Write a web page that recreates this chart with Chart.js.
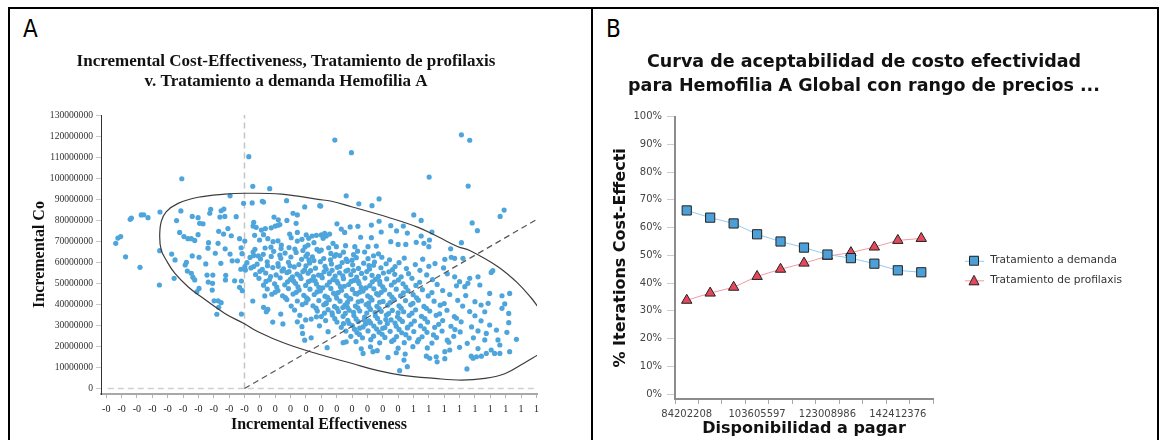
<!DOCTYPE html>
<html>
<head>
<meta charset="utf-8">
<script src="https://cdn.jsdelivr.net/npm/chart.js@4.4.1/dist/chart.umd.min.js"></script>
<style>
  html, body { margin: 0; padding: 0; background: #fff; }
  body { width: 1161px; height: 440px; position: relative; overflow: hidden; }
  .frame { position: absolute; left: 8px; top: 7px; width: 1151px; height: 450px; border: 2px solid #000; box-sizing: border-box; }
  .divider { position: absolute; left: 591px; top: 7px; width: 2px; height: 440px; background: #000; }
  .letter { position: absolute; top: 17px; font: 24px/24px "Liberation Sans Narrow", "DejaVu Sans Condensed", sans-serif; color: #000; }
  #panelA { position: absolute; left: 12px; top: 10px; }
  #panelB { position: absolute; left: 594px; top: 10px; }
</style>
</head>
<body>
<div class="frame"></div>
<div class="divider"></div>
<div class="letter" style="left:23px">A</div>
<div class="letter" style="left:606px">B</div>
<div id="panelA"><canvas id="icer" width="576" height="430"></canvas></div>
<div id="panelB"><canvas id="ceac" width="564" height="430"></canvas></div>
<script>
// ---------- Panel A: plano costo-efectividad (efectividad, costo en millones) ----------
const effTicks = [-0.45, -0.40, -0.35, -0.30, -0.25, -0.20, -0.15, -0.10, -0.05, 0.00,
  0.05, 0.10, 0.15, 0.20, 0.25, 0.30, 0.35, 0.40, 0.45, 0.50,
  0.55, 0.60, 0.65, 0.70, 0.75, 0.80, 0.85, 0.90, 0.95];
const effTickLabels = ['-0','-0','-0','-0','-0','-0','-0','-0','-0','-0',
  '0','0','0','0','0','0','0','0','0','0',
  '1','1','1','1','1','1','1','1','1'];
const costTicks = [0, 10, 20, 30, 40, 50, 60, 70, 80, 90, 100, 110, 120, 130];
const costTickLabels = ['0','10000000','20000000','30000000','40000000','50000000','60000000',
  '70000000','80000000','90000000','100000000','110000000','120000000','130000000'];

// iteraciones leidas una a una en las zonas poco densas
const iterSparse = [
  [0.014,110.2],[-0.204,99.7],[0.027,96.1],[0.082,95.0],[-0.047,91.6],[-0.003,88.0],[0.025,88.2],[0.058,89.0],[0.062,88.6],[0.137,89.3],[0.196,86.3],[0.245,86.9],
  [-0.275,83.9],[-0.207,84.4],[-0.336,82.5],[-0.328,82.6],[-0.314,81.2],[-0.372,80.4],[-0.368,81.0],[-0.221,79.8],[-0.170,81.8],[-0.151,81.2],[-0.113,83.3],[-0.110,85.2],
  [-0.076,84.5],[-0.067,85.3],[-0.080,81.5],[-0.064,81.8],[-0.027,81.7],[-0.146,78.5],[-0.135,78.3],[0.030,79.0],[0.028,77.2],[0.096,81.5],[0.110,80.2],[0.109,77.6],
  [0.138,79.9],[0.158,83.3],[0.172,82.5],[0.168,78.5],[0.038,76.6],[0.055,75.3],[0.068,76.0],[0.087,76.4],[0.100,77.2],[0.115,77.9],[-0.084,74.7],[-0.068,73.4],
  [-0.054,76.0],[-0.211,74.2],[-0.197,72.2],[-0.184,71.2],[-0.173,71.2],[-0.162,70.4],[-0.151,73.1],[-0.043,72.6],[-0.016,71.2],[0.001,70.1],[0.033,72.8],[0.049,70.6],
  [0.062,73.1],[0.076,71.2],[0.093,69.8],[0.109,70.2],[0.120,68.2],[0.147,73.4],[0.152,71.7],[0.172,74.2],[0.172,70.1],[0.187,70.9],[0.201,73.0],[0.209,71.4],
  [0.220,72.5],[0.234,72.8],[0.207,68.2],[0.226,69.3],[-0.419,69.0],[-0.412,71.5],[-0.403,72.2],[-0.117,69.3],[-0.086,69.0],
  [-0.119,66.7],[-0.063,66.4],[-0.011,66.9],[0.034,66.2],[0.067,66.8],[0.086,67.2],[0.119,66.5],[0.145,67.0],[0.164,66.3],
  [-0.276,65.5],[-0.387,62.6],[-0.340,57.6],[-0.277,49.2],[-0.237,63.9],[-0.229,52.4],[-0.226,61.1],
  [-0.193,58.7],[-0.189,60.0],[-0.186,55.8],[-0.170,63.0],[-0.148,62.4],[-0.173,54.8],[-0.168,52.9],[-0.162,51.6],[-0.155,46.0],[-0.148,47.6],[-0.126,59.2],[-0.122,53.9],
  [-0.118,50.6],[-0.103,53.9],[-0.104,50.0],[-0.105,46.8],[-0.095,64.3],[-0.077,59.5],[-0.099,41.7],[-0.086,41.7],[-0.076,40.8],[-0.084,38.6],[-0.090,35.3],[-0.061,53.8],
  [-0.062,51.6],[-0.047,63.9],[-0.040,60.7],[-0.023,60.7],[-0.032,51.2],[-0.016,48.1],[-0.007,46.5],[-0.012,56.7],[-0.010,51.1],[-0.010,35.4],[0.001,57.9],[0.003,56.3],
  [0.027,41.6],[0.066,44.0],[0.062,38.6],[0.076,37.6],[0.071,36.5],[0.092,31.6],[0.118,35.4],[0.125,30.7],[0.172,31.7],[0.187,29.4],[0.189,26.2],[0.196,23.0],
  [0.217,24.1],[0.199,32.6],[0.217,33.0],[0.234,34.1],
  [0.505,8.5],[0.724,9.3],[0.467,14.8],[0.494,17.0],[0.530,10.4],[0.519,13.5],[0.523,16.4],[0.380,18.9],[0.386,16.7],[0.418,17.5],[0.432,18.0],[0.321,21.8],
  [0.331,22.2],[0.269,19.4],[0.272,27.0],[0.592,15.4],[0.603,14.4],[0.624,15.1],[0.652,14.2],[0.627,12.7],[0.652,17.5],[0.668,18.3],[0.738,15.4],[0.744,14.4],
  [0.755,15.1],[0.771,15.4],[0.787,16.7],[0.803,18.3],[0.814,16.7],[0.831,16.7],[0.863,17.5],[0.885,23.4],[0.860,31.3],[0.854,26.7],[0.860,35.7],[0.838,38.1],
  [0.847,40.2],[0.863,45.2],[0.838,44.1],[0.803,55.2],[0.808,56.0],[0.798,45.2],[0.793,40.5],[0.782,36.5],[0.798,30.2],[0.787,26.2],[0.782,23.1],[0.820,27.8],
  [0.825,23.1],[0.831,20.7],[0.766,49.2],[0.760,53.1],[0.727,50.0],[0.733,52.4],[0.684,61.9],[0.711,61.9],[0.652,61.4],[0.673,62.4],[0.684,53.1],[0.700,50.8],[0.717,48.4],
  [0.294,118.1],[0.348,112.1],[0.706,120.6],[0.733,118.0],[0.601,100.5],[0.728,96.2],[0.331,91.6],[0.372,87.8],[0.415,86.9],[0.438,90.1],[0.248,86.7],[0.551,82.5],
  [0.575,79.9],[0.832,81.8],[0.845,84.8],[0.741,78.7],[0.758,75.0],[0.610,74.4],[0.602,70.6],[0.600,67.4],[0.575,72.5],[0.559,69.5],[0.584,69.0],[0.671,66.4],
  [0.706,69.3],[0.301,78.3],[0.315,75.8],[0.326,74.2],[0.344,76.8],[0.369,77.1],[0.413,77.7],[0.438,79.5],[0.445,74.4],[0.476,77.4],[0.495,74.9],[0.517,77.2],
  [0.530,73.9],[0.378,71.9],[0.413,71.7],[0.476,69.8],[0.500,68.5],[0.525,68.5],[0.250,73.0],[0.261,73.8],[0.266,72.5],[0.277,73.4],[0.256,71.4],[0.288,69.0],
  [0.299,67.4],[0.250,65.8],[0.329,67.9],[0.359,67.4],[0.402,67.4],[0.429,67.7]
];

// nube central, estimada por franjas de costo
const iterDense = [
  [0.197,67.3],[0.236,66.1],[0.274,66.9],
  [-0.008,64.1],[0.028,64.9],[0.061,63.8],[0.095,65.2],[0.132,64.4],[0.168,64.7],[0.205,63.9],[0.243,65.3],[0.281,64.2],[0.322,64.8],[0.355,63.6],[0.391,64.9],[0.436,64.0],
  [0.018,62.3],[0.052,61.6],[0.087,62.8],[0.118,61.9],[0.151,62.5],[0.186,61.4],[0.221,62.6],[0.258,61.8],[0.293,62.9],[0.331,61.5],[0.364,62.2],[0.402,61.7],[0.447,62.4],[0.52,62.0],[0.58,61.5],
  [0.008,59.8],[0.041,59.1],[0.074,60.2],[0.109,59.4],[0.143,60.0],[0.177,58.9],[0.212,59.7],[0.247,60.3],[0.283,59.2],[0.318,59.9],[0.352,58.8],[0.388,59.6],[0.423,60.1],[0.461,59.3],[0.503,59.8],[0.556,58.9],[0.62,59.4],
  [0.021,57.3],[0.058,56.6],[0.092,57.5],[0.127,56.9],[0.162,57.8],[0.196,56.4],[0.231,57.2],[0.266,56.7],[0.302,57.6],[0.337,56.3],[0.371,57.1],[0.407,56.8],[0.444,57.4],[0.482,56.5],[0.527,57.0],[0.571,56.2],[0.648,57.3],
  [0.036,54.2],[0.069,54.9],[0.103,54.0],[0.138,55.1],[0.171,54.4],[0.207,54.8],[0.241,53.9],[0.276,54.6],[0.309,55.0],[0.346,54.1],[0.381,54.7],[0.415,53.8],[0.452,54.9],[0.489,54.3],[0.534,54.6],[0.593,54.0],[0.66,54.5],
  [0.047,52.4],[0.081,51.7],[0.116,52.6],[0.149,51.9],[0.184,52.3],[0.218,51.5],[0.253,52.7],[0.288,51.8],[0.322,52.2],[0.356,51.4],[0.392,52.5],[0.426,51.9],[0.463,52.1],[0.501,51.6],[0.545,52.4],[0.612,51.8],
  [0.062,49.1],[0.098,49.8],[0.131,49.3],[0.166,50.0],[0.199,49.0],[0.234,49.7],[0.269,49.2],[0.304,50.1],[0.339,49.4],[0.373,49.9],[0.408,48.9],[0.441,49.6],[0.478,49.2],[0.516,49.8],[0.558,49.0],[0.627,49.5],[0.69,48.8],
  [0.074,47.3],[0.109,46.6],[0.143,47.5],[0.178,46.8],[0.213,47.2],[0.247,46.4],[0.281,47.6],[0.316,46.7],[0.351,47.1],[0.386,46.3],[0.421,47.4],[0.456,46.9],[0.494,47.2],[0.532,46.5],[0.579,47.0],[0.645,46.6],
  [0.089,44.8],[0.124,44.1],[0.158,44.9],[0.193,44.3],[0.227,44.7],[0.262,43.9],[0.297,44.6],[0.331,44.2],[0.366,44.9],[0.401,44.0],[0.436,44.5],[0.472,44.8],[0.508,44.1],[0.549,44.6],[0.598,44.0],[0.668,44.7],[0.72,44.2],
  [0.138,42.3],[0.172,41.6],[0.207,42.4],[0.242,41.8],[0.276,42.2],[0.311,41.5],[0.346,42.6],[0.381,41.7],[0.415,42.1],[0.451,41.4],[0.487,42.3],[0.524,41.8],[0.566,42.0],[0.617,41.5],[0.694,41.9],[0.75,41.3],
  [0.152,39.2],[0.188,39.9],[0.223,39.3],[0.258,39.8],[0.293,39.0],[0.327,39.7],[0.361,39.2],[0.396,39.9],[0.431,39.1],[0.466,39.6],[0.503,39.3],[0.541,39.8],[0.584,39.0],[0.637,39.6],[0.71,39.2],[0.77,39.7],
  [0.163,37.3],[0.237,36.8],[0.272,37.5],[0.306,36.6],[0.341,37.2],[0.375,36.9],[0.41,37.6],[0.445,36.7],[0.481,37.1],[0.518,36.5],[0.557,37.4],[0.603,36.8],[0.659,37.2],[0.733,36.6],
  [0.18,34.8],[0.25,34.2],[0.286,34.9],[0.321,34.3],[0.356,34.7],[0.391,34.0],[0.426,34.6],[0.462,34.9],[0.498,34.1],[0.536,34.7],[0.576,34.3],[0.624,34.8],[0.683,34.2],[0.75,34.6],
  [0.264,32.3],[0.301,31.6],[0.336,32.4],[0.37,31.8],[0.405,32.2],[0.441,31.5],[0.477,32.6],[0.514,31.9],[0.553,32.1],[0.596,31.6],[0.645,32.3],[0.705,31.7],[0.77,32.2],
  [0.244,29.8],[0.315,29.1],[0.351,29.9],[0.386,29.3],[0.421,29.7],[0.457,29.0],[0.494,29.6],[0.532,29.2],[0.573,29.8],[0.619,29.1],[0.672,29.6],[0.739,29.3],
  [0.33,27.3],[0.366,26.6],[0.402,27.4],[0.438,26.8],[0.474,27.2],[0.512,26.5],[0.551,27.1],[0.594,26.7],[0.643,27.3],[0.702,26.9],[0.76,27.4],
  [0.346,24.8],[0.384,24.1],[0.42,24.9],[0.457,24.3],[0.495,24.7],[0.536,24.0],[0.578,24.6],[0.625,24.2],[0.681,24.8],[0.745,24.1],
  [0.363,22.3],[0.44,21.7],[0.479,22.4],[0.52,21.8],[0.563,22.2],[0.61,21.6],[0.665,22.0],[0.725,21.5],
  [0.41,19.8],[0.5,19.2],[0.548,19.9],[0.595,19.3],[0.7,19.6],[0.76,19.0],
  [0.03,63.2],[0.075,58.4],[0.115,63.4],[0.148,58.3],[0.19,65.6],[0.226,60.8],[0.262,58.1],[0.298,63.7],[0.335,60.4],[0.368,65.3],[0.405,58.4],[0.472,61.2],
  [0.05,55.7],[0.085,53.2],[0.122,55.9],[0.156,53.1],[0.19,55.6],[0.225,53.2],[0.259,55.5],[0.295,53.4],[0.33,55.8],[0.365,53.0],[0.398,55.6],[0.436,53.3],[0.47,55.5],[0.51,53.1],
  [0.07,50.9],[0.105,48.2],[0.14,50.7],[0.174,48.3],[0.208,50.8],[0.242,48.1],[0.277,50.6],[0.312,48.4],[0.347,50.9],[0.38,48.0],[0.416,50.7],[0.45,48.3],[0.488,50.6],[0.525,48.2],[0.57,50.5],
  [0.1,45.8],[0.133,43.2],[0.168,45.7],[0.202,43.1],[0.236,45.9],[0.27,43.3],[0.305,45.6],[0.34,43.0],[0.375,45.8],[0.41,43.2],[0.445,45.7],[0.48,43.4],[0.517,45.5],[0.56,43.1],[0.61,45.6],
  [0.2,40.8],[0.233,38.2],[0.266,40.7],[0.301,38.1],[0.335,40.9],[0.369,38.3],[0.404,40.6],[0.438,38.0],[0.474,40.8],[0.51,38.2],[0.548,40.5],[0.592,38.1],[0.65,40.4],
  [0.26,35.8],[0.294,33.2],[0.328,35.7],[0.363,33.1],[0.398,35.9],[0.433,33.3],[0.469,35.6],[0.505,33.0],[0.545,35.8],[0.587,33.2],[0.635,35.5],[0.69,33.4],
  [0.322,30.8],[0.358,28.2],[0.394,30.7],[0.43,28.3],[0.465,30.9],[0.503,28.1],[0.542,30.6],[0.585,28.4],[0.632,30.5],[0.685,28.0],
  [0.374,25.7],[0.411,23.2],[0.448,25.8],[0.486,23.1],[0.525,25.6],[0.567,23.3],[0.615,25.5],[0.66,23.0],
  [0.045,63.0],[0.2,62.9],[0.31,63.2],[0.42,63.1],[0.03,58.0],[0.11,58.1],[0.2,58.3],[0.31,58.0],[0.42,58.6],[0.49,58.0],[0.6,58.1],
  [0.255,47.9],[0.29,45.3],[0.325,48.6],[0.36,45.2],[0.395,47.8],[0.43,45.1],[0.265,40.3],[0.3,43.0],[0.335,38.6],[0.37,41.2],
  [0.405,38.7],[0.44,41.0],[0.285,36.0],[0.32,38.5],[0.355,36.2],[0.39,32.6],[0.425,36.1],[0.46,32.8],[0.5,36.0],[0.34,31.0],
  [0.375,28.7],[0.41,31.2],[0.45,28.6],[0.49,31.1],[0.53,28.8],[0.18,53.6],[0.215,56.0],[0.25,53.8],[0.285,56.2],[0.32,53.6],
  [0.355,56.1],[0.145,55.6],[0.21,61.1],[0.28,61.2],[0.35,61.0],[0.16,51.0],[0.23,51.2],[0.3,51.1],[0.37,51.0],[0.44,50.9]
];

// elipse de confianza trazada sobre la figura
const confidenceEllipse = [
  [0.955,38.9],[0.934,42.9],[0.890,50.0],[0.825,57.9],[0.733,65.6],[0.695,67.4],[0.630,72.1],[0.565,76.6],
  [0.467,81.4],[0.348,86.4],[0.283,89.0],[0.239,89.9],[0.120,92.4],[0.001,92.8],[-0.064,92.4],[-0.151,90.9],
  [-0.216,88.0],[-0.255,84.0],[-0.271,79.3],[-0.276,72.2],[-0.271,65.8],[-0.255,61.1],[-0.227,54.8],[-0.184,48.4],
  [-0.141,43.6],[-0.064,35.7],[0.001,30.7],[0.044,27.0],[0.131,21.5],[0.239,16.4],[0.348,12.0],[0.435,8.5],
  [0.510,6.4],[0.619,4.8],[0.706,4.0],[0.782,4.8],[0.847,7.0],[0.912,12.3],[0.955,16.0]
];
const thresholdLine = [[0, 0], [0.951, 80.3]];
const zeroEffLine = [[0, 0], [0, 130]];
const zeroCostLine = [[-0.445, 0], [0.952, 0]];

// ---------- Panel B: curva de aceptabilidad ----------
const wtpLabels = ['84202208','90670004','97137801','103605597','110073393','116541190',
  '123008986','129476782','135944579','142412376','148880172'];
const onDemand = [66.2, 63.6, 61.5, 57.6, 55.0, 52.8, 50.3, 49.0, 47.0, 44.6, 43.9];
const prophylaxis = [33.8, 36.4, 38.5, 42.4, 45.0, 47.2, 49.7, 51.0, 53.0, 55.4, 56.1];
const pctTicks = [0, 10, 20, 30, 40, 50, 60, 70, 80, 90, 100];

const toXY = pts => pts.map(p => ({ x: p[0], y: p[1] }));

// eje invisible que solo deja un hueco a la derecha del area
function spacer(width) {
  return {
    type: 'linear', position: 'right', display: true,
    ticks: { display: false }, grid: { display: false }, border: { display: false },
    afterFit: s => { s.width = width; }
  };
}

const serif = 'Liberation Serif';
const sans = 'DejaVu Sans';

new Chart(document.getElementById('icer'), {
  type: 'scatter',
  data: {
    datasets: [
      { label: 'Elipse', data: toXY(confidenceEllipse), showLine: true, tension: 0.4,
        borderColor: '#3c3c3c', borderWidth: 1.2, pointRadius: 0 },
      { label: 'Umbral', data: toXY(thresholdLine), showLine: true,
        borderColor: '#555', borderWidth: 1.2, borderDash: [6, 4], pointRadius: 0 },
      { label: 'Iteraciones', data: toXY(iterSparse.concat(iterDense)),
        pointRadius: 2.6, pointBackgroundColor: '#4ea5dc', pointBorderWidth: 0 },
      { label: 'x0', data: toXY(zeroEffLine), showLine: true,
        borderColor: '#c4c4c4', borderWidth: 1.5, borderDash: [6, 4], pointRadius: 0 },
      { label: 'y0', data: toXY(zeroCostLine), showLine: true,
        borderColor: '#d0d0d0', borderWidth: 1.5, borderDash: [6, 4], pointRadius: 0 }
    ]
  },
  options: {
    responsive: false,
    devicePixelRatio: 1,
    animation: false,
    events: [],
    layout: { padding: { left: 0, right: 28, top: 0, bottom: 0 } },
    plugins: {
      legend: { display: false },
      tooltip: { enabled: false },
      title: {
        display: true,
        text: ['Incremental Cost-Effectiveness, Tratamiento de profilaxis', 'v. Tratamiento a demanda Hemofilia A'],
        font: { family: serif, size: 17, weight: 'bold', lineHeight: '20px' },
        color: '#111',
        padding: { top: 42, bottom: 23 }
      }
    },
    scales: {
      x: {
        type: 'linear', min: -0.467, max: 0.952,
        afterBuildTicks: s => { s.ticks = effTicks.map(v => ({ value: v })); },
        afterFit: s => { s.height = 46; },
        ticks: { autoSkip: false, maxRotation: 0, padding: 5, callback: (v, i) => effTickLabels[i],
          font: { family: serif, size: 10 }, color: '#222' },
        grid: { drawOnChartArea: false, tickLength: 4, color: '#b4b4b4' },
        border: { color: '#a8a8a8', width: 2 },
        title: { display: true, text: 'Incremental Effectiveness',
          font: { family: serif, size: 16, weight: 'bold' }, color: '#111', padding: { top: 0, bottom: 6 } }
      },
      y: {
        type: 'linear', min: -2.6, max: 130,
        afterBuildTicks: s => { s.ticks = costTicks.map(v => ({ value: v })); },
        afterFit: s => { s.width = 89; },
        ticks: { autoSkip: false, padding: 3, callback: (v, i) => costTickLabels[i],
          font: { family: serif, size: 9.6 }, color: '#333' },
        grid: { drawOnChartArea: false, tickLength: 5, color: '#c8c8c8' },
        border: { color: '#333', width: 1 },
        title: { display: true, text: 'Incremental Co',
          font: { family: serif, size: 16, weight: 'bold' }, color: '#111', padding: { top: 18, bottom: 0 } }
      },
      gap: spacer(23)
    }
  }
});

// iconos de leyenda: linea con el marcador en medio
function legendIcon(lineColor, fill, shape) {
  const c = document.createElement('canvas');
  c.width = 20; c.height = 12;
  const g = c.getContext('2d');
  g.strokeStyle = lineColor; g.lineWidth = 1;
  g.beginPath(); g.moveTo(0, 6.5); g.lineTo(19, 6.5); g.stroke();
  g.fillStyle = fill; g.strokeStyle = '#222';
  g.beginPath();
  if (shape === 'rect') g.rect(4.5, 1.5, 9, 9);
  else { g.moveTo(9, 1); g.lineTo(14, 10.5); g.lineTo(4, 10.5); g.closePath(); }
  g.fill(); g.stroke();
  return c;
}
const legendIcons = [legendIcon('#93cbee', '#4d9fd8', 'rect'), legendIcon('#f29aa4', '#e6475b', 'tri')];

// coloca la leyenda a la derecha del area, donde esta en el original
const legendPlace = {
  id: 'legendPlace',
  afterLayout(chart, args, opts) {
    const lg = chart.legend;
    const w = lg.width, h = lg.height;
    lg.left = opts.x; lg.right = opts.x + w;
    lg.top = opts.y; lg.bottom = opts.y + h;
  }
};

new Chart(document.getElementById('ceac'), {
  type: 'line',
  data: {
    labels: wtpLabels,
    datasets: [
      { label: 'Tratamiento a demanda', data: onDemand, borderColor: '#93cbee', borderWidth: 1,
        pointStyle: 'rect', pointRadius: 6.5, pointBackgroundColor: '#4d9fd8',
        pointBorderColor: '#222', pointBorderWidth: 1 },
      { label: 'Tratamiento de profilaxis', data: prophylaxis, borderColor: '#f29aa4', borderWidth: 1,
        pointStyle: 'triangle', pointRadius: 6, pointBackgroundColor: '#e6475b',
        pointBorderColor: '#222', pointBorderWidth: 1 }
    ]
  },
  options: {
    responsive: false,
    devicePixelRatio: 1,
    animation: false,
    events: [],
    layout: { padding: { left: 0, right: 24, top: 0, bottom: 0 } },
    plugins: {
      tooltip: { enabled: false },
      title: {
        display: true,
        text: ['Curva de aceptabilidad de costo efectividad', 'para Hemofilia A Global con rango de precios ...'],
        font: { family: sans, size: 17.5, weight: 'bold', lineHeight: '24px' },
        color: '#111',
        padding: { top: 40, bottom: 18.7 }
      },
      legend: {
        position: 'chartArea', align: 'start',
        labels: {
          usePointStyle: true, pointStyleWidth: 20, padding: 9,
          font: { family: sans, size: 10.6 }, color: '#333',
          generateLabels(chart) {
            const items = Chart.defaults.plugins.legend.labels.generateLabels(chart);
            items.forEach((it, i) => { it.pointStyle = legendIcons[i]; });
            return items;
          }
        }
      },
      legendPlace: { x: 362, y: 236.4 }
    },
    scales: {
      x: {
        offset: true,
        afterFit: s => { s.height = 41; },
        ticks: { autoSkip: false, maxRotation: 0, padding: 4,
          callback: function (v, i) { return i % 3 === 0 ? this.getLabelForValue(v) : ''; },
          font: { family: sans, size: 10 }, color: '#444' },
        grid: { offset: true, drawOnChartArea: false, tickLength: 5, color: '#aaa' },
        border: { color: '#8c8c8c', width: 2 },
        title: { display: true, text: 'Disponibilidad a pagar',
          font: { family: sans, size: 16, weight: 'bold' }, color: '#111', padding: { top: 0, bottom: 1.4 } }
      },
      y: {
        min: -1.8, max: 100,
        afterBuildTicks: s => { s.ticks = pctTicks.map(v => ({ value: v })); },
        afterFit: s => { s.width = 81; },
        ticks: { autoSkip: false, padding: 5, callback: v => v + '%',
          font: { family: sans, size: 10 }, color: '#444' },
        grid: { drawOnChartArea: false, tickLength: 8, color: '#ccc' },
        border: { color: '#8c8c8c', width: 2 },
        title: { display: true, text: '% Iterations Cost-Effecti',
          font: { family: sans, size: 16, weight: 'bold' }, color: '#111', padding: { top: 17.4, bottom: 0 } }
      },
      gap: spacer(201)
    }
  },
  plugins: [legendPlace]
});
</script>
</body>
</html>
